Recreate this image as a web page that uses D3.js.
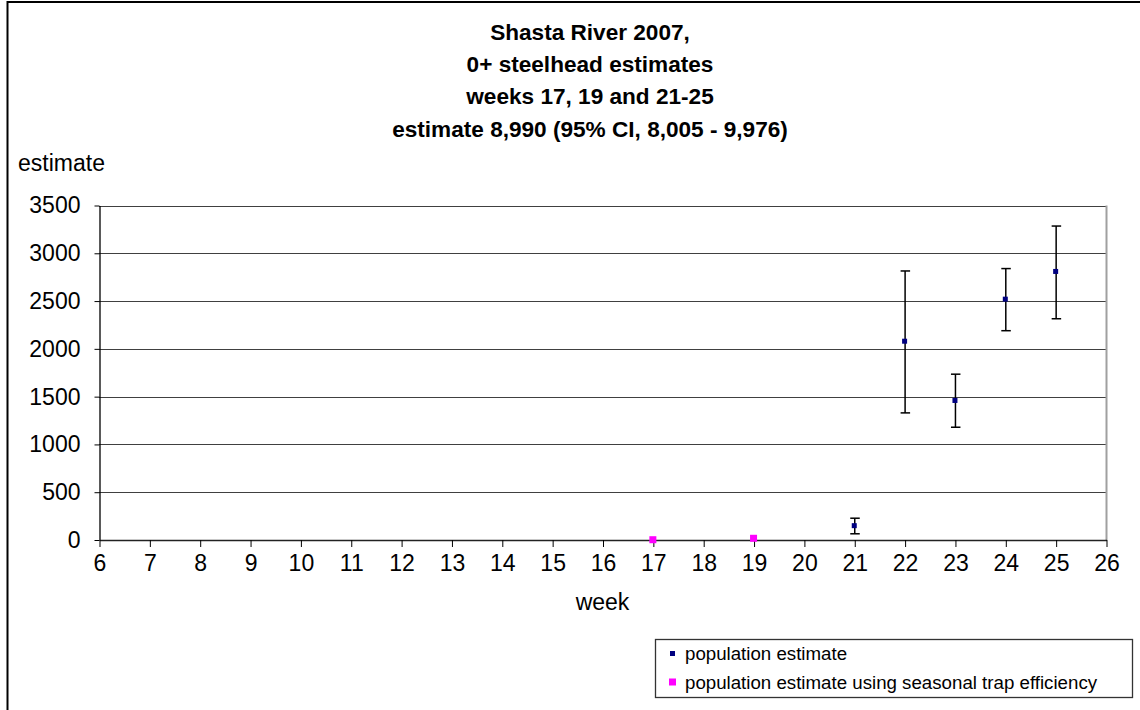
<!DOCTYPE html>
<html>
<head>
<meta charset="utf-8">
<script src="https://cdn.jsdelivr.net/npm/d3@7"></script>
<style>
  html, body { margin: 0; padding: 0; background: #fff; }
  svg { display: block; font-family: "Liberation Sans", Arial, sans-serif; }
</style>
</head>
<body>
<svg id="chart" width="1140" height="710"></svg>
<script>
// Weekly 0+ steelhead population estimates with 95% confidence limits
const weeks = [21, 22, 23, 24, 25];
const estimates = [150, 2080, 1460, 2520, 2810];
const lowerCI = [65, 1330, 1180, 2190, 2315];
const upperCI = [228, 2815, 1735, 2840, 3285];

// Estimates computed with the seasonal trap efficiency
const seasonalWeeks = [17, 19];
const seasonalEstimates = [3, 18];

const xTicks = d3.range(6, 27);
const yTicks = [0, 500, 1000, 1500, 2000, 2500, 3000, 3500];

const titleLines = [
  "Shasta River 2007,",
  "0+ steelhead estimates",
  "weeks 17, 19 and 21-25",
  "estimate 8,990 (95% CI, 8,005 - 9,976)"
];
const legendLabels = [
  "population estimate",
  "population estimate using seasonal trap efficiency"
];

const svg = d3.select("#chart");
const plot = { left: 99, right: 1106, top: 205.5, bottom: 540 };

const x = d3.scaleLinear().domain([6, 26]).range([plot.left, plot.right]);
const y = d3.scaleLinear().domain([0, 3500]).range([plot.bottom, plot.top]);

// Outer frame
svg.append("rect")
  .attr("x", 7.5).attr("y", 2)
  .attr("width", 1300).attr("height", 900)
  .attr("fill", "none").attr("stroke", "#000").attr("stroke-width", 2);

// Title
svg.append("g").selectAll("text").data(titleLines).join("text")
  .attr("x", 590).attr("y", (d, i) => 40 + i * 32.2)
  .attr("text-anchor", "middle")
  .attr("font-size", 22.6).attr("font-weight", "bold")
  .text(d => d);

// Horizontal gridlines
svg.append("g").selectAll("line").data(yTicks.filter(v => v > 0)).join("line")
  .attr("x1", plot.left).attr("x2", plot.right)
  .attr("y1", d => Math.round(y(d)) + 0.5).attr("y2", d => Math.round(y(d)) + 0.5)
  .attr("stroke", "#404040").attr("stroke-width", 1);

// Right border of the plot area
svg.append("line")
  .attr("x1", plot.right + 0.5).attr("x2", plot.right + 0.5)
  .attr("y1", plot.top).attr("y2", plot.bottom)
  .attr("stroke", "#a0a0a0").attr("stroke-width", 2);

// Y axis
const yAxis = svg.append("g")
  .attr("transform", `translate(${plot.left + 0.5},0)`)
  .call(d3.axisLeft(y).tickValues(yTicks).tickFormat(d3.format("d"))
    .tickSize(5).tickPadding(14).tickSizeOuter(0));
yAxis.select(".domain").attr("stroke", "#000").attr("stroke-width", 1.3);
yAxis.selectAll(".tick line").attr("stroke", "#000");
yAxis.selectAll("text").attr("font-size", 23).attr("fill", "#000")
  .attr("font-family", "Liberation Sans, Arial, sans-serif");

// X axis
const xAxis = svg.append("g")
  .attr("transform", `translate(0.5,${plot.bottom})`)
  .call(d3.axisBottom(x).tickValues(xTicks).tickSize(7).tickPadding(8).tickSizeOuter(0));
xAxis.select(".domain").attr("stroke", "#222").attr("stroke-width", 1.5);
xAxis.selectAll(".tick line").attr("stroke", "#000");
xAxis.selectAll("text").attr("font-size", 23).attr("fill", "#000")
  .attr("font-family", "Liberation Sans, Arial, sans-serif");

// Axis titles
svg.append("text").attr("x", 18).attr("y", 171)
  .attr("font-size", 23).text("estimate");
svg.append("text").attr("x", (plot.left + plot.right) / 2).attr("y", 610)
  .attr("text-anchor", "middle").attr("font-size", 23).text("week");

// Error bars
const series = weeks.map((w, i) => ({ w, est: estimates[i], lo: lowerCI[i], hi: upperCI[i] }));
const eb = svg.append("g").attr("stroke", "#000").attr("stroke-width", 1.5);
eb.selectAll("line.v").data(series).join("line").attr("class", "v")
  .attr("x1", d => x(d.w) + 0.5).attr("x2", d => x(d.w) + 0.5)
  .attr("y1", d => y(d.lo)).attr("y2", d => y(d.hi));
eb.selectAll("line.t").data(series).join("line").attr("class", "t")
  .attr("x1", d => x(d.w) - 4).attr("x2", d => x(d.w) + 5.5)
  .attr("y1", d => y(d.hi)).attr("y2", d => y(d.hi));
eb.selectAll("line.b").data(series).join("line").attr("class", "b")
  .attr("x1", d => x(d.w) - 4).attr("x2", d => x(d.w) + 5.5)
  .attr("y1", d => y(d.lo)).attr("y2", d => y(d.lo));

// Point markers
svg.append("g").selectAll("rect").data(series).join("rect")
  .attr("x", d => x(d.w) - 2.5).attr("y", d => y(d.est) - 2.5)
  .attr("width", 5).attr("height", 5).attr("fill", "#000080");

svg.append("g").selectAll("rect")
  .data(seasonalWeeks.map((w, i) => ({ w, est: seasonalEstimates[i] })))
  .join("rect")
  .attr("x", d => x(d.w) - 3.5).attr("y", d => y(d.est) - 3.5)
  .attr("width", 7).attr("height", 7).attr("fill", "#ff00ff");

// Legend
const lg = svg.append("g").attr("transform", "translate(655,639)");
lg.append("rect").attr("x", 0.5).attr("y", 0.5).attr("width", 477).attr("height", 58)
  .attr("fill", "#fff").attr("stroke", "#333").attr("stroke-width", 1.3);
const legendColors = ["#000080", "#ff00ff"];
const legendSizes = [5, 7];
legendLabels.forEach((t, i) => {
  const cy = 14.5 + i * 28.5;
  lg.append("rect")
    .attr("x", 17.5 - legendSizes[i] / 2).attr("y", cy - legendSizes[i] / 2)
    .attr("width", legendSizes[i]).attr("height", legendSizes[i])
    .attr("fill", legendColors[i]);
  lg.append("text").attr("x", 30).attr("y", cy + 6.5)
    .attr("font-size", 18.7).text(t);
});
</script>
</body>
</html>
